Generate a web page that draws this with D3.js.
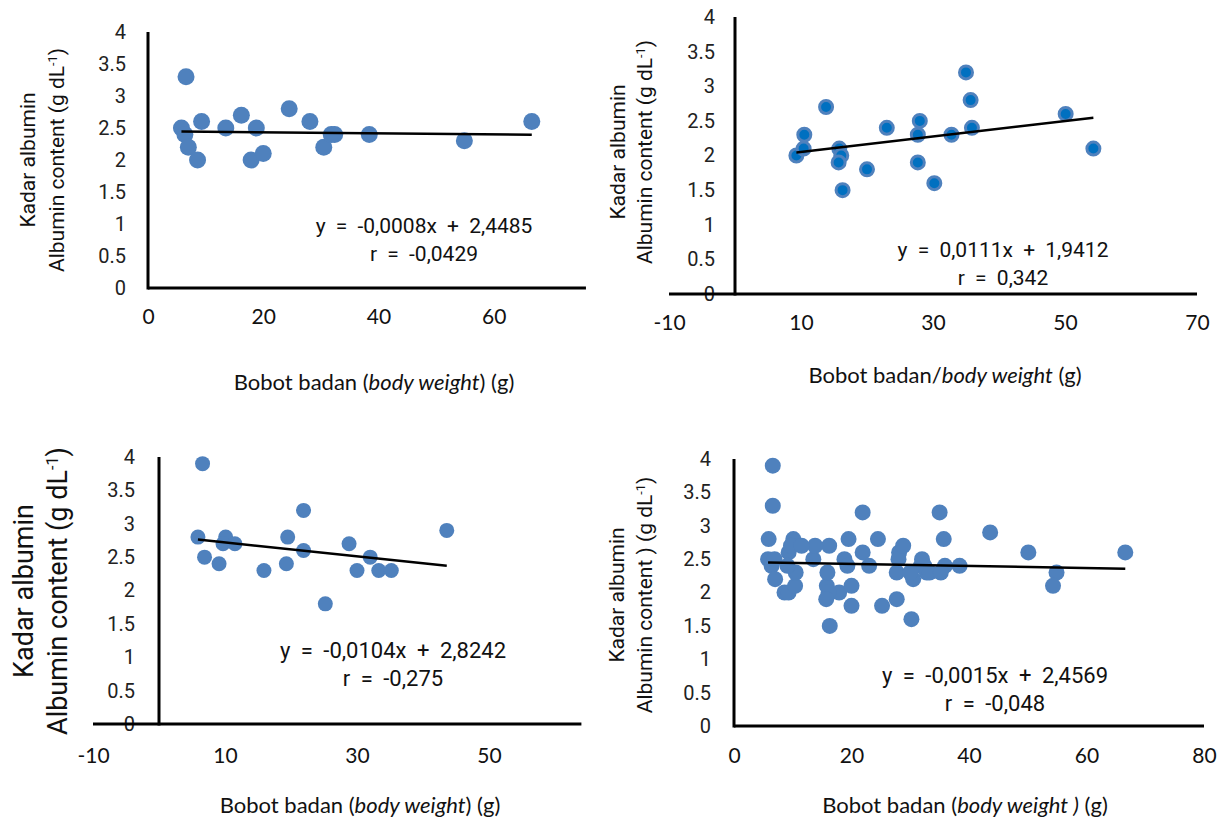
<!DOCTYPE html>
<html>
<head>
<meta charset="utf-8">
<script src="https://cdn.jsdelivr.net/npm/d3@7"></script>
<style>
  body { margin: 0; background: #fff; }
  svg { display: block; }
</style>
</head>
<body>
<svg id="chart" width="1226" height="825"></svg>
<script>
// ---- data ----
// panel 1
var p1Weight = [5.8, 6.6, 6.4, 7.0, 8.6, 9.3, 13.5, 16.2, 18.8, 17.9, 20.0, 24.5, 28.1, 30.5, 31.8, 32.4, 38.4, 54.9, 66.6];
var p1Albumin = [2.5, 3.3, 2.4, 2.2, 2.0, 2.6, 2.5, 2.7, 2.5, 2.0, 2.1, 2.8, 2.6, 2.2, 2.4, 2.4, 2.4, 2.3, 2.6];
// panel 2
var p2Weight = [9.3, 10.4, 10.5, 13.8, 15.8, 16.1, 15.7, 16.3, 20.0, 23.0, 28.0, 27.7, 27.7, 30.2, 32.8, 35.0, 35.7, 35.9, 50.1, 54.3];
var p2Albumin = [2.0, 2.1, 2.3, 2.7, 2.1, 2.0, 1.9, 1.5, 1.8, 2.4, 2.5, 2.3, 1.9, 1.6, 2.3, 3.2, 2.8, 2.4, 2.6, 2.1];
// panel 3
var p3Weight = [5.9, 6.6, 6.9, 9.1, 10.1, 9.7, 11.5, 15.9, 19.3, 19.5, 21.9, 21.9, 25.2, 28.8, 30.0, 32.0, 33.3, 35.2, 43.6];
var p3Albumin = [2.8, 3.9, 2.5, 2.4, 2.8, 2.7, 2.7, 2.3, 2.4, 2.8, 3.2, 2.6, 1.8, 2.7, 2.3, 2.5, 2.3, 2.3, 2.9];
// panel 4 pools all fish
var p4Weight = p1Weight.concat(p2Weight, p3Weight);
var p4Albumin = p1Albumin.concat(p2Albumin, p3Albumin);

var yTicks = [0, 0.5, 1, 1.5, 2, 2.5, 3, 3.5, 4];
var p1XTicks = [0, 20, 40, 60];
var p2XTicks = [-10, 10, 30, 50, 70];
var p3XTicks = [-10, 10, 30, 50];
var p4XTicks = [0, 20, 40, 60, 80];

var trendSlopes = [-0.0008, 0.0111, -0.0104, -0.0015];
var trendIntercepts = [2.4485, 1.9412, 2.8242, 2.4569];
var eqLines = ["y = -0,0008x + 2,4485", "y = 0,0111x + 1,9412", "y = -0,0104x + 2,8242", "y = -0,0015x + 2,4569"];
var rLines = ["r = -0,0429", "r  = 0,342", "r = -0,275", "r = -0,048"];

var svg = d3.select("#chart");
var narrow = "Roboto, 'Liberation Sans', sans-serif";
var humanist = "Lato, 'Open Sans', sans-serif";

var panels = [
  { xs: p1Weight, ys: p1Albumin, xTicks: p1XTicks, xDomain: [0, 80], xRange: [148, 609], axisFrom: 0, axisTo: 76,
    yRange: [288, 32], xPad: 21, yPad: 22, dot: { r: 8.5, fill: "#4f81bd" },
    eqX: 424, eqY: 226, eqSize: 21,
    yTitle: ["Kadar albumin", "Albumin content (g dL", ")"], yTitleX: [28, 57], yTitleY: 160, yTitleSize: 21,
    xTitle: ["Bobot badan (", "body weight", ") (g)"], xTitleX: 374, xTitleY: 382 },
  { xs: p2Weight, ys: p2Albumin, xTicks: p2XTicks, xDomain: [-10, 70], xRange: [669, 1197], axisFrom: -10, axisTo: 70,
    yRange: [294, 17], xPad: 21, yPad: 20, dot: { r: 6.5, fill: "#0070c0", stroke: "#4f81bd", sw: 3 },
    eqX: 1003, eqY: 250, eqSize: 21,
    yTitle: ["Kadar albumin", "Albumin content (g dL", ")"], yTitleX: [618, 645], yTitleY: 152, yTitleSize: 21,
    xTitle: ["Bobot badan/", "body weight", " (g)"], xTitleX: 945, xTitleY: 375 },
  { xs: p3Weight, ys: p3Albumin, xTicks: p3XTicks, xDomain: [-10, 70], xRange: [93, 621], axisFrom: -10, axisTo: 64,
    yRange: [724, 457], xPad: 24, yPad: 24, dot: { r: 7.5, fill: "#4f81bd" },
    eqX: 393, eqY: 650, eqSize: 22,
    yTitle: ["Kadar albumin", "Albumin content (g dL", ")"], yTitleX: [24, 58], yTitleY: 591, yTitleSize: 27,
    xTitle: ["Bobot badan (", "body weight", ") (g)"], xTitleX: 360, xTitleY: 805 },
  { xs: p4Weight, ys: p4Albumin, xTicks: p4XTicks, xDomain: [0, 80], xRange: [734, 1204], axisFrom: 0, axisTo: 80,
    yRange: [726, 459], xPad: 22, yPad: 23, dot: { r: 8, fill: "#4f81bd" },
    eqX: 995, eqY: 675, eqSize: 22,
    yTitle: ["Kadar albumin", "Albumin content ) (g dL", ")"], yTitleX: [617, 645], yTitleY: 595, yTitleSize: 21,
    xTitle: ["Bobot badan (", "body weight )", " (g)"], xTitleX: 965, xTitleY: 805 }
];

panels.forEach(function (p, i) {
  var x = d3.scaleLinear().domain(p.xDomain).range(p.xRange);
  var y = d3.scaleLinear().domain([0, 4]).range(p.yRange);
  var g = svg.append("g");

  // tick labels only, axis lines drawn below
  var yAxis = g.append("g")
    .attr("transform", "translate(" + x(0) + ",0)")
    .call(d3.axisLeft(y).tickValues(yTicks).tickSize(0).tickPadding(p.yPad).tickFormat(String));
  var xAxis = g.append("g")
    .attr("transform", "translate(0," + y(0) + ")")
    .call(d3.axisBottom(x).tickValues(p.xTicks).tickSize(0).tickPadding(p.xPad).tickFormat(String));
  yAxis.select(".domain").remove();
  xAxis.select(".domain").remove();
  yAxis.selectAll("text").attr("font-family", narrow).attr("font-size", 20).attr("fill", "#222");
  xAxis.selectAll("text").attr("font-family", humanist).attr("font-size", 21).attr("fill", "#111");

  g.append("line")
    .attr("x1", x(0)).attr("x2", x(0))
    .attr("y1", y(0) + 1.5).attr("y2", y(4))
    .attr("stroke", "#000").attr("stroke-width", 3);
  g.append("line")
    .attr("x1", x(p.axisFrom)).attr("x2", x(p.axisTo))
    .attr("y1", y(0)).attr("y2", y(0))
    .attr("stroke", "#000").attr("stroke-width", 3);

  // points
  var pts = d3.zip(p.xs, p.ys);
  g.selectAll("circle")
    .data(pts)
    .enter()
    .append("circle")
    .attr("cx", function (d) { return x(d[0]); })
    .attr("cy", function (d) { return y(d[1]); })
    .attr("r", p.dot.r)
    .attr("fill", p.dot.fill)
    .attr("stroke", p.dot.stroke || "none")
    .attr("stroke-width", p.dot.sw || 0);

  // linear trend line
  var xMin = d3.min(p.xs), xMax = d3.max(p.xs);
  g.append("line")
    .attr("x1", x(xMin)).attr("y1", y(trendSlopes[i] * xMin + trendIntercepts[i]))
    .attr("x2", x(xMax)).attr("y2", y(trendSlopes[i] * xMax + trendIntercepts[i]))
    .attr("stroke", "#000").attr("stroke-width", 2.5);

  // equation
  [eqLines[i], rLines[i]].forEach(function (t, k) {
    g.append("text")
      .attr("x", p.eqX).attr("y", p.eqY + k * 28)
      .attr("dy", "0.35em")
      .attr("text-anchor", "middle")
      .attr("font-family", narrow).attr("font-size", p.eqSize)
      .attr("word-spacing", 5)
      .attr("fill", "#111")
      .text(t);
  });

  // y title, two rotated lines
  g.append("text")
    .attr("transform", "translate(" + p.yTitleX[0] + "," + p.yTitleY + ") rotate(-90)")
    .attr("text-anchor", "middle").attr("dy", "0.35em")
    .attr("font-family", narrow).attr("font-size", p.yTitleSize).attr("fill", "#111")
    .text(p.yTitle[0]);
  var t2 = g.append("text")
    .attr("transform", "translate(" + p.yTitleX[1] + "," + p.yTitleY + ") rotate(-90)")
    .attr("text-anchor", "middle").attr("dy", "0.35em")
    .attr("font-family", narrow).attr("font-size", p.yTitleSize).attr("fill", "#111");
  t2.append("tspan").text(p.yTitle[1]);
  t2.append("tspan").attr("baseline-shift", "super").attr("font-size", p.yTitleSize * 0.6).text("-1");
  t2.append("tspan").text(p.yTitle[2]);

  // x title with italic part
  var xt = g.append("text")
    .attr("x", p.xTitleX).attr("y", p.xTitleY)
    .attr("dy", "0.35em")
    .attr("text-anchor", "middle")
    .attr("font-family", humanist).attr("font-size", 22).attr("fill", "#111");
  xt.append("tspan").text(p.xTitle[0]);
  xt.append("tspan").attr("font-style", "italic").text(p.xTitle[1]);
  xt.append("tspan").text(p.xTitle[2]);
});
</script>
</body>
</html>
